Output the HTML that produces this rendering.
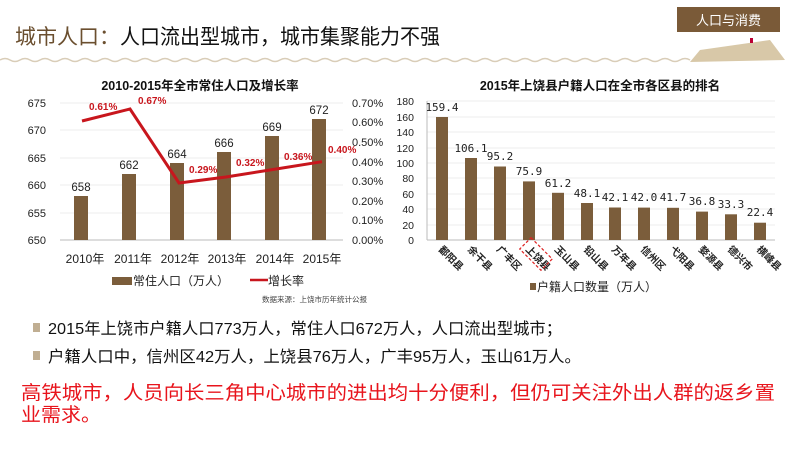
<!DOCTYPE html>
<html><head><meta charset="utf-8"><style>
html,body{margin:0;padding:0;background:#fff;width:800px;height:450px;overflow:hidden}
svg{display:block;font-family:"Liberation Sans","Noto Sans CJK SC",sans-serif}
</style></head><body>
<svg width="800" height="450" viewBox="0 0 800 450">
<!-- header -->
<text x="15" y="44" font-size="21" fill="#6b4f2f">城市人口：</text>
<text x="120" y="44" font-size="21" fill="#111" textLength="320" lengthAdjust="spacingAndGlyphs">人口流出型城市，城市集聚能力不强</text>
<path d="M0 60 q5 -3 10 0 t10 0 t10 0 t10 0 t10 0 t10 0 t10 0 t10 0 t10 0 t10 0 t10 0 t10 0 t10 0 t10 0 t10 0 t10 0 t10 0 t10 0 t10 0 t10 0 t10 0 t10 0 t10 0 t10 0 t10 0 t10 0 t10 0 t10 0 t10 0 t10 0 t10 0 t10 0 t10 0 t10 0 t10 0 t10 0 t10 0 t10 0 t10 0 t10 0 t10 0 t10 0 t10 0 t10 0 t10 0 t10 0 t10 0 t10 0 t10 0 t10 0 t10 0 t10 0 t10 0 t10 0 t10 0 t10 0 t10 0 t10 0 t10 0 t10 0 t10 0 t10 0 t10 0 t10 0 t10 0 t10 0 t10 0 t10 0 t10 0" stroke="#d9cdb8" stroke-width="1.5" fill="none"/>
<rect x="677" y="7" width="103" height="25" fill="#7a5a38"/>
<text x="728.5" y="25" font-size="13" fill="#fff" text-anchor="middle">人口与消费</text>
<polygon points="700,50 770,40 785,60 690,62" fill="#d8c8a8"/>
<rect x="750" y="38" width="3" height="5" fill="#b03"/>

<!-- left chart -->
<text x="200" y="90" font-size="12.5" font-weight="bold" text-anchor="middle" fill="#111">2010-2015年全市常住人口及增长率</text>
<g stroke="#eee" stroke-width="1">
<line x1="60" y1="103" x2="343" y2="103"/><line x1="60" y1="130" x2="343" y2="130"/><line x1="60" y1="158" x2="343" y2="158"/><line x1="60" y1="185" x2="343" y2="185"/><line x1="60" y1="213" x2="343" y2="213"/>
</g>
<line x1="60" y1="240" x2="343" y2="240" stroke="#bbb"/>
<g font-size="11" fill="#222" text-anchor="end">
<text x="46" y="107">675</text><text x="46" y="134">670</text><text x="46" y="162">665</text><text x="46" y="189">660</text><text x="46" y="217">655</text><text x="46" y="244">650</text>
</g>
<g font-size="11" fill="#222">
<text x="352" y="107">0.70%</text><text x="352" y="126">0.60%</text><text x="352" y="146">0.50%</text><text x="352" y="166">0.40%</text><text x="352" y="185">0.30%</text><text x="352" y="205">0.20%</text><text x="352" y="224">0.10%</text><text x="352" y="244">0.00%</text>
</g>
<g fill="#7b5d3b">
<rect x="74" y="196" width="14" height="44"/><rect x="122" y="174" width="14" height="66"/><rect x="170" y="163" width="14" height="77"/><rect x="217" y="152" width="14" height="88"/><rect x="265" y="136" width="14" height="104"/><rect x="312" y="119" width="14" height="121"/>
</g>
<g font-size="11.5" fill="#222" text-anchor="middle">
<text x="81" y="191">658</text><text x="129" y="169">662</text><text x="177" y="158">664</text><text x="224" y="147">666</text><text x="272" y="131">669</text><text x="319" y="114">672</text>
</g>
<polyline points="82,121 130,109 179,183 226,177 273,169.5 322,161.7" fill="none" stroke="#c8161d" stroke-width="3"/>
<g font-size="10" font-weight="bold" fill="#c8161d">
<text x="89" y="110">0.61%</text><text x="138" y="104">0.67%</text><text x="189" y="173">0.29%</text><text x="236" y="166">0.32%</text><text x="284" y="160">0.36%</text><text x="328" y="153">0.40%</text>
</g>
<g font-size="12" fill="#222" text-anchor="middle">
<text x="85" y="263">2010年</text><text x="133" y="263">2011年</text><text x="180" y="263">2012年</text><text x="227" y="263">2013年</text><text x="275" y="263">2014年</text><text x="322" y="263">2015年</text>
</g>
<rect x="112" y="277" width="20" height="8" fill="#7b5d3b"/>
<text x="133" y="285" font-size="12" fill="#222">常住人口（万人）</text>
<line x1="250" y1="280" x2="268" y2="280" stroke="#c8161d" stroke-width="2.5"/>
<text x="268" y="285" font-size="12" fill="#222">增长率</text>
<text x="262" y="302" font-size="7.5" fill="#444">数据来源：上饶市历年统计公报</text>

<!-- right chart -->
<text x="600" y="90" font-size="12.5" font-weight="bold" text-anchor="middle" fill="#111">2015年上饶县户籍人口在全市各区县的排名</text>
<g stroke="#eee">
<line x1="427" y1="101" x2="775" y2="101"/><line x1="427" y1="117" x2="775" y2="117"/><line x1="427" y1="132" x2="775" y2="132"/><line x1="427" y1="148" x2="775" y2="148"/><line x1="427" y1="163" x2="775" y2="163"/><line x1="427" y1="178" x2="775" y2="178"/><line x1="427" y1="194" x2="775" y2="194"/><line x1="427" y1="209" x2="775" y2="209"/><line x1="427" y1="225" x2="775" y2="225"/>
</g>
<line x1="427" y1="101" x2="427" y2="240" stroke="#bbb"/>
<line x1="427" y1="240" x2="775" y2="240" stroke="#bbb"/>
<g font-size="10.5" fill="#222" text-anchor="end">
<text x="414" y="105">180</text><text x="414" y="121">160</text><text x="414" y="136">140</text><text x="414" y="152">120</text><text x="414" y="167">100</text><text x="414" y="182">80</text><text x="414" y="198">60</text><text x="414" y="213">40</text><text x="414" y="229">20</text><text x="414" y="244">0</text>
</g>
<g fill="#7b5d3b">
<rect x="436" y="117" width="12" height="123"/><rect x="465" y="158" width="12" height="82"/><rect x="494" y="166.5" width="12" height="73.5"/><rect x="523" y="181.4" width="12" height="58.6"/><rect x="552" y="192.8" width="12" height="47.2"/><rect x="581" y="203" width="12" height="37"/><rect x="609" y="207.5" width="12" height="32.5"/><rect x="638" y="207.6" width="12" height="32.4"/><rect x="667" y="207.8" width="12" height="32.2"/><rect x="696" y="211.6" width="12" height="28.4"/><rect x="725" y="214.3" width="12" height="25.7"/><rect x="754" y="222.7" width="12" height="17.3"/>
</g>
<g font-size="11" fill="#222" text-anchor="middle" font-family="'DejaVu Sans Mono',monospace">
<text x="442" y="111">159.4</text><text x="471" y="152">106.1</text><text x="500" y="160">95.2</text><text x="529" y="175">75.9</text><text x="558" y="187">61.2</text><text x="587" y="197">48.1</text><text x="615" y="201">42.1</text><text x="644" y="201">42.0</text><text x="673" y="201">41.7</text><text x="702" y="205">36.8</text><text x="731" y="208">33.3</text><text x="760" y="216">22.4</text>
</g>
<g font-size="10" font-weight="bold" fill="#222">
<text transform="translate(438,250) rotate(45)">鄱阳县</text>
<text transform="translate(467,250) rotate(45)">余干县</text>
<text transform="translate(496,250) rotate(45)">广丰区</text>
<text transform="translate(525,250) rotate(45)">上饶县</text>
<text transform="translate(554,250) rotate(45)">玉山县</text>
<text transform="translate(583,250) rotate(45)">铅山县</text>
<text transform="translate(611,250) rotate(45)">万年县</text>
<text transform="translate(640,250) rotate(45)">信州区</text>
<text transform="translate(669,250) rotate(45)">弋阳县</text>
<text transform="translate(698,250) rotate(45)">婺源县</text>
<text transform="translate(727,250) rotate(45)">德兴市</text>
<text transform="translate(756,250) rotate(45)">横峰县</text>
</g>
<rect x="521" y="246" width="30" height="16" transform="rotate(45 536 254)" fill="none" stroke="#d22" stroke-dasharray="3,2" stroke-width="1.2"/>
<rect x="530" y="283" width="6" height="7" fill="#7b5d3b"/>
<text x="537" y="291" font-size="12" fill="#222">户籍人口数量（万人）</text>

<!-- bullets -->
<rect x="33" y="323" width="7" height="9" fill="#c0ae92"/>
<text x="48" y="334" font-size="16" fill="#111" textLength="514" lengthAdjust="spacingAndGlyphs">2015年上饶市户籍人口773万人，常住人口672万人，人口流出型城市；</text>
<rect x="33" y="351" width="7" height="9" fill="#c0ae92"/>
<text x="48" y="362" font-size="16" fill="#111" textLength="533" lengthAdjust="spacingAndGlyphs">户籍人口中，信州区42万人，上饶县76万人，广丰95万人，玉山61万人。</text>
<text x="21" y="399" font-size="19" fill="#e8141c" textLength="754" lengthAdjust="spacingAndGlyphs">高铁城市，人员向长三角中心城市的进出均十分便利，但仍可关注外出人群的返乡置</text>
<text x="21" y="421" font-size="19" fill="#e8141c" textLength="80" lengthAdjust="spacingAndGlyphs">业需求。</text>
</svg>
</body></html>
